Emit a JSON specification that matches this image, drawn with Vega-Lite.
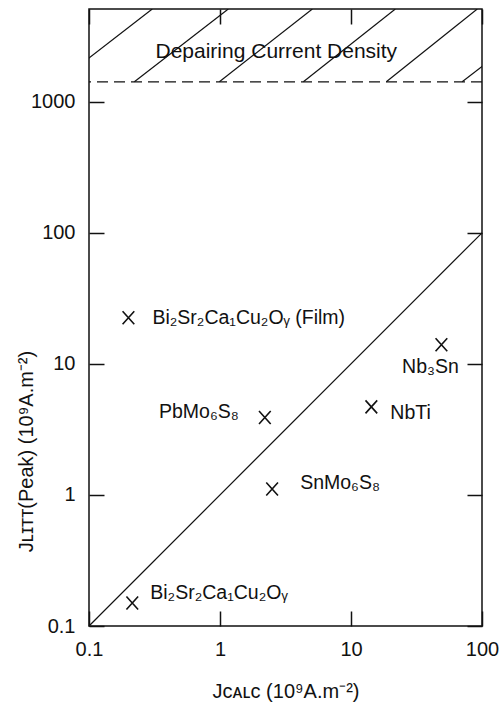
{
  "$schema": "https://vega.github.io/schema/vega-lite/v6.json",
  "width": 393,
  "height": 617,
  "autosize": {"type": "none"},
  "padding": {"left": 89, "top": 9, "right": 21, "bottom": 81},
  "background": "white",
  "config": {
    "font": "Liberation Sans",
    "view": {"stroke": "#111", "strokeWidth": 1.5},
    "axis": {
      "grid": false,
      "domain": false,
      "offset": -15,
      "tickColor": "#111",
      "tickWidth": 1.5,
      "tickSize": 15,
      "labelFontSize": 20,
      "labelColor": "#111",
      "labelFlush": false,
      "labelOverlap": false,
      "titleFontSize": 20,
      "titleFontWeight": "normal",
      "titleColor": "#111",
      "format": "~g",
      "zindex": 1
    },
    "text": {"fontSize": 19.5, "color": "#111"}
  },
  "datasets": {
    "materials": [
      {"material": "Bi₂Sr₂Ca₁Cu₂Oᵧ (Film)", "jcalc": 0.2, "jpeak": 22.5},
      {"material": "Nb₃Sn", "jcalc": 49, "jpeak": 14},
      {"material": "PbMo₆S₈", "jcalc": 2.2, "jpeak": 3.9},
      {"material": "NbTi", "jcalc": 14.3, "jpeak": 4.7},
      {"material": "SnMo₆S₈", "jcalc": 2.5, "jpeak": 1.11},
      {"material": "Bi₂Sr₂Ca₁Cu₂Oᵧ", "jcalc": 0.214, "jpeak": 0.15}
    ],
    "lines": [
      {"kind": "ideal", "x1": 0.1, "y1": 0.1, "x2": 100, "y2": 100},
      {"kind": "hatch", "x1": 0.0583, "y1": 1420, "x2": 0.304, "y2": 5100},
      {"kind": "hatch", "x1": 0.222, "y1": 1420, "x2": 1.157, "y2": 5100},
      {"kind": "hatch", "x1": 0.989, "y1": 1420, "x2": 5.07, "y2": 5100},
      {"kind": "hatch", "x1": 4.33, "y1": 1420, "x2": 21.8, "y2": 5100},
      {"kind": "hatch", "x1": 18.6, "y1": 1420, "x2": 92, "y2": 5100},
      {"kind": "hatch", "x1": 70.6, "y1": 1420, "x2": 369, "y2": 5100}
    ],
    "region": [
      {"text": "Depairing Current Density", "jcalc": 2.69, "jpeak": 2410, "limit": 1420}
    ]
  },
  "layer": [
    {
      "data": {"name": "lines"},
      "transform": [{"filter": "datum.kind == 'ideal'"}],
      "mark": {"type": "rule", "color": "#111", "strokeWidth": 1.2},
      "encoding": {
        "x": {
          "field": "x1", "type": "quantitative",
          "scale": {"type": "log", "domain": [0.1, 100], "nice": false},
          "axis": {
            "orient": "bottom",
            "values": [0.1, 1, 10, 100],
            "labelPadding": 13,
            "title": "Jᴄᴀʟᴄ (10⁹A.m⁻²)",
            "titleY": 86,
            "titleBaseline": "alphabetic"
          }
        },
        "y": {
          "field": "y1", "type": "quantitative",
          "scale": {"type": "log", "domain": [0.1, 5100], "nice": false},
          "axis": {
            "orient": "left",
            "values": [0.1, 1, 10, 100, 1000],
            "labelPadding": 14,
            "title": "Jʟɪᴛᴛ(Peak) (10⁹A.m⁻²)",
            "titleAngle": -90,
            "titleX": -72,
            "titleY": 442,
            "titleAlign": "center",
            "titleBaseline": "alphabetic"
          }
        },
        "x2": {"field": "x2"},
        "y2": {"field": "y2"}
      }
    },
    {
      "data": {"name": "lines"},
      "transform": [{"filter": "datum.kind == 'hatch'"}],
      "mark": {"type": "rule", "color": "#111", "strokeWidth": 1.2, "clip": true},
      "encoding": {
        "x": {
          "field": "x1", "type": "quantitative",
          "scale": {"type": "log", "domain": [0.1, 100], "nice": false},
          "axis": {"orient": "top", "values": [0.1, 1, 10, 100], "labels": false, "title": null}
        },
        "y": {
          "field": "y1", "type": "quantitative",
          "scale": {"type": "log", "domain": [0.1, 5100], "nice": false},
          "axis": {"orient": "right", "values": [0.1, 1, 10, 100, 1000], "labels": false, "title": null}
        },
        "x2": {"field": "x2"},
        "y2": {"field": "y2"}
      }
    },
    {
      "data": {"name": "region"},
      "mark": {"type": "rule", "color": "#111", "strokeWidth": 1.2, "strokeDash": [11, 6]},
      "encoding": {
        "y": {
          "field": "limit", "type": "quantitative",
          "scale": {"type": "log", "domain": [0.1, 5100], "nice": false},
          "axis": null
        }
      }
    },
    {
      "data": {"name": "region"},
      "mark": {"type": "text", "fontSize": 21, "align": "center", "baseline": "middle"},
      "encoding": {
        "x": {"field": "jcalc", "type": "quantitative", "scale": {"type": "log", "domain": [0.1, 100], "nice": false}, "axis": null},
        "y": {"field": "jpeak", "type": "quantitative", "scale": {"type": "log", "domain": [0.1, 5100], "nice": false}, "axis": null},
        "text": {"field": "text"}
      }
    },
    {
      "data": {"name": "materials"},
      "mark": {"type": "point", "shape": "M-0.9,-1L0.9,1M-0.9,1L0.9,-1", "filled": false, "size": 169, "stroke": "#111", "strokeWidth": 1.6, "opacity": 1},
      "encoding": {
        "x": {"field": "jcalc", "type": "quantitative", "scale": {"type": "log", "domain": [0.1, 100], "nice": false}, "axis": null},
        "y": {"field": "jpeak", "type": "quantitative", "scale": {"type": "log", "domain": [0.1, 5100], "nice": false}, "axis": null}
      }
    },
    {
      "data": {"name": "materials"},
      "transform": [{"filter": "datum.material == 'Bi₂Sr₂Ca₁Cu₂Oᵧ (Film)'"}],
      "mark": {"type": "text", "align": "left", "baseline": "middle", "dx": 24, "dy": 0},
      "encoding": {
        "x": {"field": "jcalc", "type": "quantitative", "scale": {"type": "log", "domain": [0.1, 100], "nice": false}, "axis": null},
        "y": {"field": "jpeak", "type": "quantitative", "scale": {"type": "log", "domain": [0.1, 5100], "nice": false}, "axis": null},
        "text": {"field": "material"}
      }
    },
    {
      "data": {"name": "materials"},
      "transform": [{"filter": "datum.material == 'Nb₃Sn'"}],
      "mark": {"type": "text", "align": "center", "baseline": "middle", "dx": -11, "dy": 22},
      "encoding": {
        "x": {"field": "jcalc", "type": "quantitative", "scale": {"type": "log", "domain": [0.1, 100], "nice": false}, "axis": null},
        "y": {"field": "jpeak", "type": "quantitative", "scale": {"type": "log", "domain": [0.1, 5100], "nice": false}, "axis": null},
        "text": {"field": "material"}
      }
    },
    {
      "data": {"name": "materials"},
      "transform": [{"filter": "datum.material == 'PbMo₆S₈'"}],
      "mark": {"type": "text", "align": "right", "baseline": "middle", "dx": -26, "dy": -5},
      "encoding": {
        "x": {"field": "jcalc", "type": "quantitative", "scale": {"type": "log", "domain": [0.1, 100], "nice": false}, "axis": null},
        "y": {"field": "jpeak", "type": "quantitative", "scale": {"type": "log", "domain": [0.1, 5100], "nice": false}, "axis": null},
        "text": {"field": "material"}
      }
    },
    {
      "data": {"name": "materials"},
      "transform": [{"filter": "datum.material == 'NbTi'"}],
      "mark": {"type": "text", "align": "left", "baseline": "middle", "dx": 19, "dy": 6},
      "encoding": {
        "x": {"field": "jcalc", "type": "quantitative", "scale": {"type": "log", "domain": [0.1, 100], "nice": false}, "axis": null},
        "y": {"field": "jpeak", "type": "quantitative", "scale": {"type": "log", "domain": [0.1, 5100], "nice": false}, "axis": null},
        "text": {"field": "material"}
      }
    },
    {
      "data": {"name": "materials"},
      "transform": [{"filter": "datum.material == 'SnMo₆S₈'"}],
      "mark": {"type": "text", "align": "left", "baseline": "middle", "dx": 28, "dy": -6},
      "encoding": {
        "x": {"field": "jcalc", "type": "quantitative", "scale": {"type": "log", "domain": [0.1, 100], "nice": false}, "axis": null},
        "y": {"field": "jpeak", "type": "quantitative", "scale": {"type": "log", "domain": [0.1, 5100], "nice": false}, "axis": null},
        "text": {"field": "material"}
      }
    },
    {
      "data": {"name": "materials"},
      "transform": [{"filter": "datum.material == 'Bi₂Sr₂Ca₁Cu₂Oᵧ'"}],
      "mark": {"type": "text", "align": "left", "baseline": "middle", "dx": 18, "dy": -10},
      "encoding": {
        "x": {"field": "jcalc", "type": "quantitative", "scale": {"type": "log", "domain": [0.1, 100], "nice": false}, "axis": null},
        "y": {"field": "jpeak", "type": "quantitative", "scale": {"type": "log", "domain": [0.1, 5100], "nice": false}, "axis": null},
        "text": {"field": "material"}
      }
    }
  ],
  "resolve": {"axis": {"x": "independent", "y": "independent"}}
}
